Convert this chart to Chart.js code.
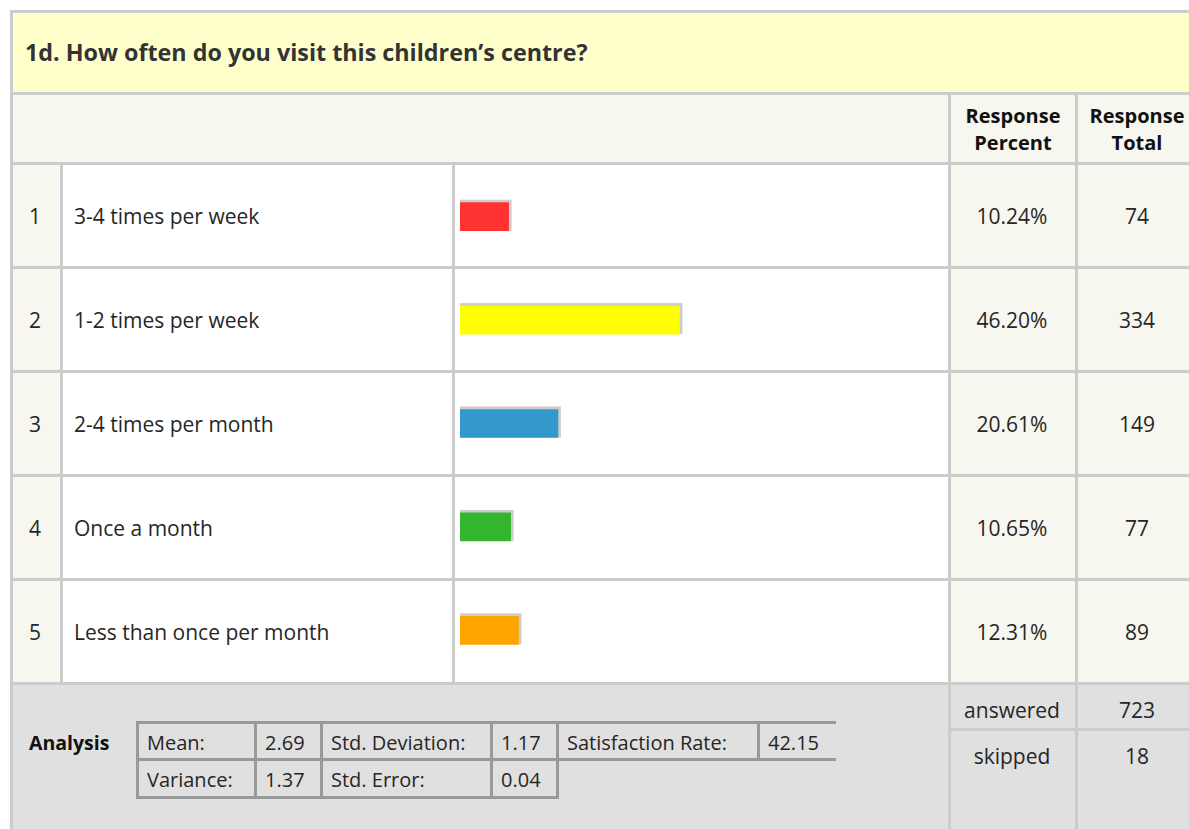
<!DOCTYPE html>
<html><head><meta charset="utf-8">
<script src="https://cdn.jsdelivr.net/npm/chart.js@4/dist/chart.umd.min.js"></script>
<style>
html,body{margin:0;padding:0;width:1189px;height:829px;overflow:hidden;background:#fff;font-family:"Open Sans",sans-serif;color:#262626;}
.r{position:absolute;box-sizing:border-box;}
.t{position:absolute;display:flex;align-items:center;font-size:21px;white-space:nowrap;line-height:27px;}
#c{position:absolute;left:455px;top:165px;z-index:5;}
</style></head><body>
<div id="root"></div>
<canvas id="c" width="493" height="517"></canvas>
<script>
const questionTitle = "1d. How often do you visit this children’s centre?";
const categories = ["3-4 times per week", "1-2 times per week", "2-4 times per month", "Once a month", "Less than once per month"];
const responsePercent = [10.24, 46.20, 20.61, 10.65, 12.31];
const responseTotal = [74, 334, 149, 77, 89];
const barColors = ["#ff3333", "#ffff00", "#3399cc", "#33b52e", "#ffa500"];
const headerLabels = [["Response", "Percent"], ["Response", "Total"]];
const summaryLabels = ["answered", "skipped"];
const summaryValues = [723, 18];
const statLabelsRow1 = ["Mean:", "Std. Deviation:", "Satisfaction Rate:"];
const statValuesRow1 = ["2.69", "1.17", "42.15"];
const statLabelsRow2 = ["Variance:", "Std. Error:"];
const statValuesRow2 = ["1.37", "0.04"];

const root = document.getElementById('root');
function rect(x, y, w, h, bg, z) {
  const d = document.createElement('div');
  d.className = 'r';
  d.style.cssText = `left:${x}px;top:${y}px;width:${w}px;height:${h}px;background:${bg};z-index:${z||1}`;
  root.appendChild(d);
}
function text(x, y, w, h, html, align, extra) {
  const d = document.createElement('div');
  d.className = 't';
  d.style.cssText = `left:${x}px;top:${y}px;width:${w}px;height:${h}px;justify-content:${align||'center'};z-index:3;` + (extra || '');
  d.innerHTML = html;
  root.appendChild(d);
}
const LINE = '#cccccc';
const CREAM = '#f7f7f0';
// outer frame
rect(10, 10, 1200, 3, LINE);
rect(10, 10, 3, 829, LINE);
// title
rect(13, 13, 1200, 79, '#ffffcc');
text(25, 13, 1000, 79, questionTitle, 'flex-start', 'font-weight:700;color:#333;font-size:23.3px;');
rect(13, 92, 1200, 3, LINE);
// header
rect(13, 95, 1200, 67, CREAM);
rect(948, 95, 3, 67, LINE);
rect(1075, 95, 3, 67, LINE);
text(951, 95, 124, 67, headerLabels[0].join('<br>'), 'center', 'font-weight:700;text-align:center;color:#111;font-size:20px;');
text(1078, 95, 118, 67, headerLabels[1].join('<br>'), 'center', 'font-weight:700;text-align:center;color:#111;font-size:20px;');
rect(13, 162, 1200, 3, LINE);
// data rows
categories.forEach((cat, i) => {
  const top = 165 + i * 104;
  rect(13, top, 47, 101, CREAM);
  rect(60, top, 3, 101, LINE);
  rect(63, top, 389, 101, '#fff');
  rect(452, top, 3, 101, LINE);
  rect(455, top, 493, 101, '#fff');
  rect(948, top, 3, 101, LINE);
  rect(951, top, 124, 101, CREAM);
  rect(1075, top, 3, 101, LINE);
  rect(1078, top, 130, 101, CREAM);
  rect(13, top + 101, 1200, 3, LINE);
  text(13, top + 1, 44, 101, String(i + 1), 'center');
  text(74, top + 1, 370, 101, cat, 'flex-start');
  text(951, top + 1, 122, 101, responsePercent[i].toFixed(2) + '%', 'center');
  text(1078, top + 1, 118, 101, String(responseTotal[i]), 'center');
});
// bottom summary area
rect(13, 685, 1200, 150, '#e0e0e0');
rect(948, 685, 3, 150, LINE, 2);
rect(1075, 685, 3, 150, LINE, 2);
rect(951, 728, 260, 3, LINE, 2);
text(951, 687, 122, 46, summaryLabels[0], 'center');
text(1078, 687, 118, 46, String(summaryValues[0]), 'center');
text(951, 733, 122, 46, summaryLabels[1], 'center');
text(1078, 733, 118, 46, String(summaryValues[1]), 'center');
// analysis
text(29, 722, 100, 40, 'Analysis', 'flex-start', 'font-weight:700;color:#111;font-size:19.5px;');
const SB = '#999999';
const cols = [136, 254, 320, 490, 556, 757];
rect(136, 721, 700, 3, SB, 2);
rect(136, 758, 700, 3, SB, 2);
rect(136, 796, 423, 3, SB, 2);
[136, 254, 320, 490, 556].forEach(x => rect(x, 721, 3, 78, SB, 2));
rect(757, 721, 3, 40, SB, 2);
const row1 = [];
statLabelsRow1.forEach((l, k) => { row1.push(l); row1.push(statValuesRow1[k]); });
const row2 = [];
statLabelsRow2.forEach((l, k) => { row2.push(l); row2.push(statValuesRow2[k]); });
row1.forEach((s, k) => text(cols[k] + 11, 725, 190, 34, s, 'flex-start', 'font-size:20px;'));
row2.forEach((s, k) => text(cols[k] + 11, 762, 190, 35, s, 'flex-start', 'font-size:20px;'));

// bars via Chart.js
const shadowPlugin = {
  id: 'barShadow',
  beforeDatasetsDraw(chart) {
    const ctx = chart.ctx;
    const meta = chart.getDatasetMeta(0);
    ctx.save();
    ctx.fillStyle = '#cccccc';
    meta.data.forEach(el => {
      const p = el.getProps(['x', 'y', 'base', 'height'], true);
      ctx.fillRect(p.base, p.y - p.height / 2 - 3, p.x + 3 - p.base, p.height + 3);
    });
    ctx.restore();
  }
};
new Chart(document.getElementById('c'), {
  type: 'bar',
  data: {
    labels: categories,
    datasets: [{
      data: responsePercent,
      backgroundColor: barColors,
      borderWidth: 0,
      barThickness: 28
    }]
  },
  options: {
    indexAxis: 'y',
    responsive: false,
    animation: false,
    layout: { padding: { left: 5, right: 13, top: 0, bottom: 0 } },
    plugins: { legend: { display: false }, tooltip: { enabled: false } },
    scales: {
      x: { display: false, min: 0, max: 100 },
      y: { display: false }
    }
  },
  plugins: [shadowPlugin]
});
</script>
</body></html>
